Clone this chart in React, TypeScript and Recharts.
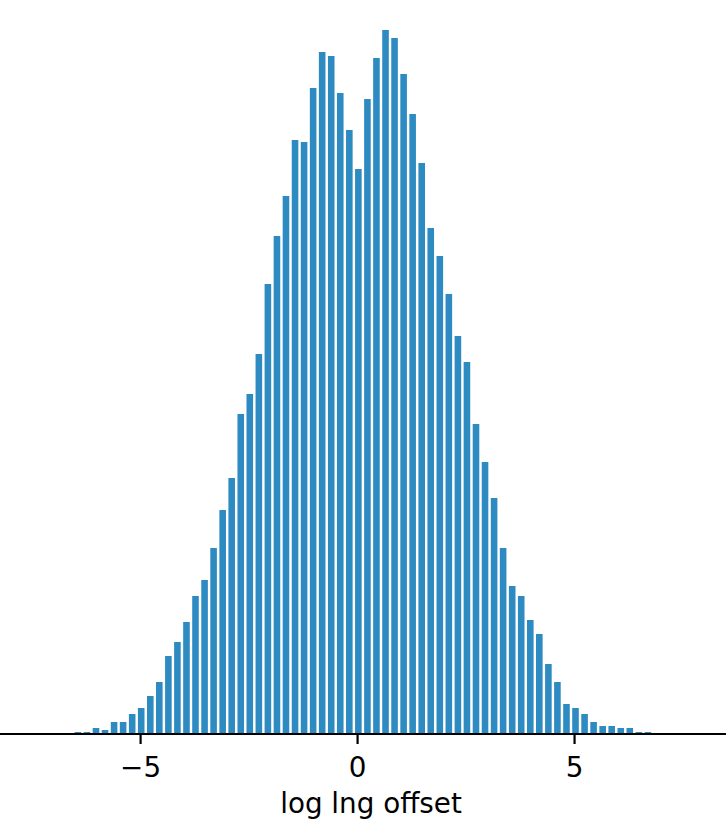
import React from "react";
import { BarChart, Bar, XAxis, YAxis, Label } from "recharts";

// Histogram bin centers (log lng offset)
const binCenters: number[] = [
  -6.44, -6.232, -6.023, -5.815, -5.606, -5.398, -5.189, -4.981, -4.772, -4.564,
  -4.355, -4.147, -3.938, -3.73, -3.521, -3.313, -3.104, -2.896, -2.687, -2.479,
  -2.27, -2.062, -1.853, -1.645, -1.436, -1.228, -1.019, -0.811, -0.602, -0.394,
  -0.185, 0.023, 0.232, 0.44, 0.649, 0.857, 1.066, 1.274, 1.483, 1.691,
  1.9, 2.108, 2.317, 2.525, 2.734, 2.942, 3.151, 3.359, 3.568, 3.776,
  3.985, 4.193, 4.402, 4.61, 4.819, 5.027, 5.236, 5.444, 5.653, 5.861,
  6.07, 6.278, 6.487, 6.695,
];

// Bin counts
const counts: number[] = [
  2, 2, 6, 4, 12, 12, 20, 26, 38, 52,
  78, 92, 112, 138, 154, 186, 224, 256, 320, 340,
  380, 450, 498, 538, 594, 592, 646, 682, 678, 641,
  604, 565, 635, 676, 704, 696, 660, 620, 571, 506,
  478, 440, 398, 372, 310, 272, 236, 186, 148, 138,
  114, 100, 70, 52, 30, 26, 20, 12, 8, 8,
  6, 6, 2, 2,
];

const xTicks: number[] = [-5, 0, 5];
const xLabel = "log lng offset";

const data = binCenters.map((x, i) => ({ x, count: counts[i] }));

const FONT = "'DejaVu Sans', sans-serif";

export default function App() {
  return (
    <div style={{ position: "absolute", left: 0, top: 0, width: 726, height: 830, background: "#fff" }}>
      <BarChart
        width={726}
        height={830}
        data={data}
        margin={{ top: 0, right: 0, bottom: 0, left: 0 }}
      >
        <YAxis hide domain={[0, 734]} allowDataOverflow type="number" />
        <XAxis
          dataKey="x"
          type="number"
          domain={[-8.24, 8.49]}
          allowDataOverflow
          ticks={xTicks}
          tickFormatter={(v: number) => (v < 0 ? "\u2212" + Math.abs(v) : String(v))}
          height={96}
          axisLine={{ stroke: "#000", strokeWidth: 2.2 }}
          tickLine={{ stroke: "#000", strokeWidth: 2.2 }}
          tickSize={10}
          tickMargin={13}
          tick={{ fill: "#000", fontSize: 27.8, fontFamily: FONT }}
          interval={0}
        >
          <Label
            value={xLabel}
            position="insideBottom"
            offset={17}
            dx={8}
            style={{ fill: "#000", fontSize: 27.8, fontFamily: FONT }}
          />
        </XAxis>
        <Bar dataKey="count" fill="#2E8BC2" barSize={6.6} isAnimationActive={false} />
      </BarChart>
    </div>
  );
}
